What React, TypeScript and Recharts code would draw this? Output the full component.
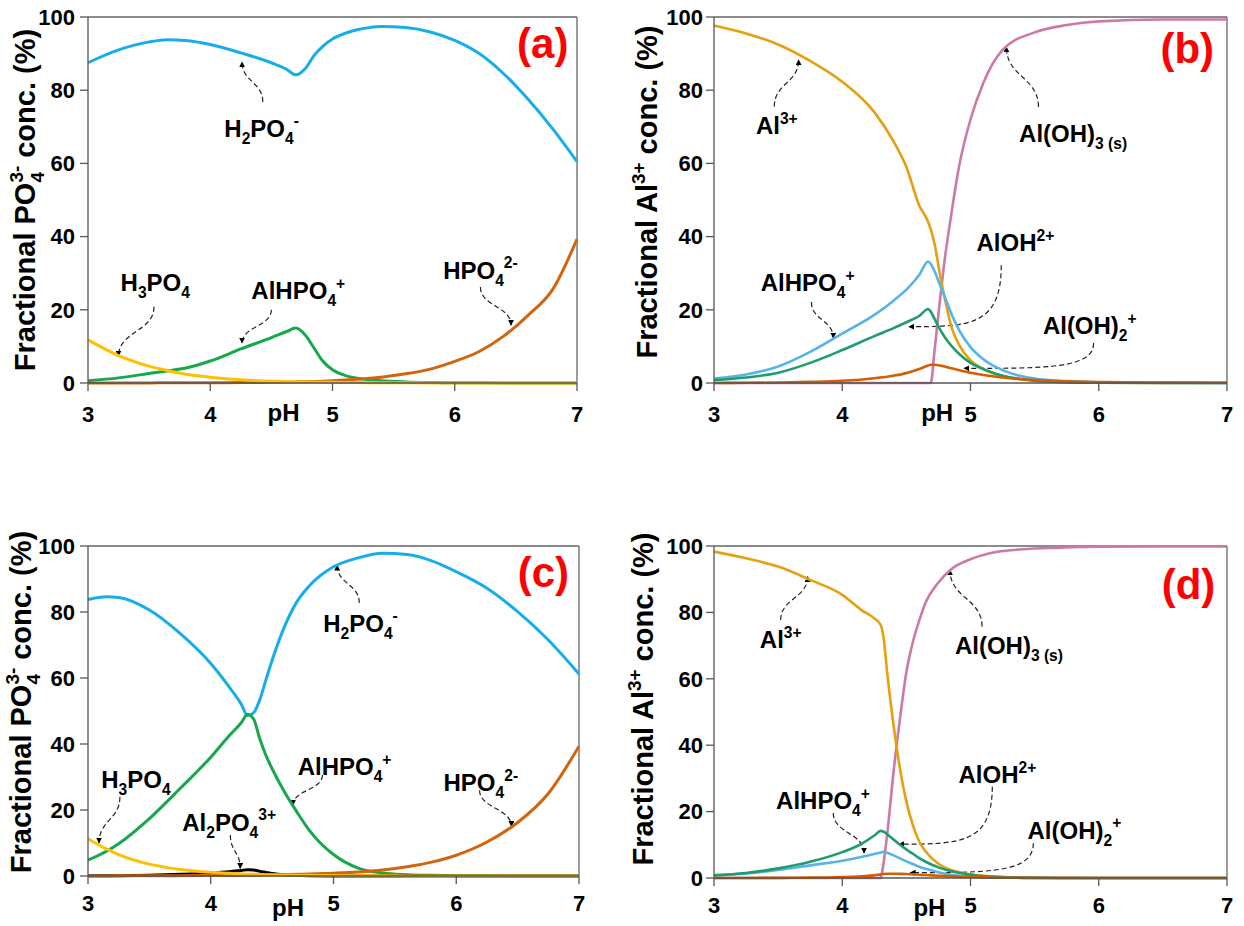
import React from "react";
import { LineChart, Line, XAxis, YAxis, ReferenceLine, Customized } from "recharts";

const FONT = '"Liberation Sans", Arial, Helvetica, sans-serif';

// ---- panel (a): phosphate speciation, case 1
const PH_A = [3, 3.25, 3.5, 3.65, 3.8, 4, 4.25, 4.5, 4.62, 4.7, 4.78, 4.85, 4.92, 5, 5.1, 5.2, 5.3, 5.4, 5.6, 5.8, 6, 6.2, 6.4, 6.6, 6.8, 7];
const A_H2PO4 = [87.5, 91, 93.2, 93.8, 93.6, 92.5, 90.2, 87.5, 85.8, 84.2, 86, 89.5, 92, 94, 95.5, 96.5, 97.1, 97.4, 97.1, 95.9, 93.6, 90, 84.5, 77.5, 69.5, 60.5];
const A_ALHPO4 = [0.6, 1.4, 2.6, 3.3, 4.1, 6.0, 9.3, 12.4, 14, 15, 13, 9.5, 6, 3.6, 2.1, 1.3, 0.9, 0.6, 0.3, 0.15, 0.08, 0.04, 0.02, 0.01, 0, 0];
const A_H3PO4 = [11.8, 7.5, 4.6, 3.4, 2.4, 1.6, 0.9, 0.5, 0.4, 0.3, 0.28, 0.25, 0.22, 0.18, 0.14, 0.11, 0.09, 0.07, 0.05, 0.03, 0.02, 0.01, 0, 0, 0, 0];
const A_HPO4 = [0.01, 0.02, 0.03, 0.04, 0.05, 0.07, 0.12, 0.2, 0.25, 0.3, 0.35, 0.4, 0.48, 0.6, 0.8, 1.0, 1.3, 1.6, 2.5, 3.8, 5.9, 8.6, 12.8, 18.5, 25.5, 39.3];

// ---- panel (b): aluminium speciation, case 1
const PH_B = [3, 3.25, 3.5, 3.75, 4, 4.25, 4.4, 4.5, 4.6, 4.67, 4.69, 4.72, 4.76, 4.8, 4.85, 4.91, 5, 5.1, 5.25, 5.5, 5.75, 6, 6.5, 7];
const B_AL = [97.7, 95.5, 92.5, 88, 82.3, 74, 66, 59, 48.5, 44, 42, 38, 30, 23, 15.5, 10.5, 6.2, 3.8, 1.9, 0.6, 0.2, 0.05, 0, 0];
const B_ALHPO4 = [1.2, 2.3, 4.5, 8.5, 13.5, 18.6, 22.5, 25.5, 29.5, 33.2, 32.5, 30.5, 27, 23.5, 19, 14.5, 9.8, 6.5, 3.5, 1.2, 0.5, 0.2, 0.05, 0];
const B_ALOH = [0.8, 1.5, 2.8, 5.5, 9.0, 12.8, 15, 16.6, 18.3, 20.2, 19.5, 17.5, 14.8, 12.5, 10.2, 8.0, 5.5, 3.8, 2.0, 0.7, 0.25, 0.1, 0.02, 0];
const B_ALOH2 = [0.02, 0.05, 0.12, 0.3, 0.6, 1.3, 2.0, 2.7, 3.8, 4.8, 5.0, 5.0, 4.8, 4.5, 4.0, 3.5, 2.8, 2.2, 1.5, 0.8, 0.45, 0.25, 0.1, 0.05];
const B_ALOH3 = [0, 0, 0, 0, 0, 0, 0, 0, 0, 0, 0, 9, 22, 34, 46, 59, 72, 82, 91, 95.8, 97.8, 98.8, 99.3, 99.3];

// ---- panel (c): phosphate speciation, case 2
const PH_C = [3, 3.15, 3.25, 3.5, 3.75, 4, 4.15, 4.25, 4.3, 4.35, 4.4, 4.45, 4.5, 4.6, 4.7, 4.8, 5, 5.2, 5.4, 5.6, 5.8, 6, 6.25, 6.5, 6.75, 7];
const C_H2PO4 = [83.8, 84.6, 84.4, 80.6, 73.5, 64.4, 57.3, 52, 48.6, 49.5, 53.5, 59.5, 65.4, 75.5, 83, 87.8, 93.7, 96.4, 97.8, 97.4, 95.5, 92.2, 87.2, 80.1, 71.5, 61.2];
const C_ALHPO4 = [4.8, 7.5, 9.8, 17.4, 26.5, 36, 42.5, 46.5, 49, 47.5, 41.5, 36.5, 32.5, 25.5, 19.5, 14, 6.5, 2.4, 0.9, 0.4, 0.2, 0.1, 0.05, 0.02, 0.01, 0];
const C_H3PO4 = [11.3, 8.2, 6.5, 3.6, 2.0, 1.1, 0.8, 0.6, 0.55, 0.5, 0.45, 0.4, 0.35, 0.3, 0.25, 0.2, 0.12, 0.08, 0.05, 0.03, 0.02, 0.01, 0, 0, 0, 0];
const C_AL2PO4 = [0.05, 0.08, 0.1, 0.25, 0.5, 0.9, 1.3, 1.7, 1.9, 1.8, 1.4, 1.1, 0.8, 0.4, 0.2, 0.1, 0.03, 0.01, 0, 0, 0, 0, 0, 0, 0, 0];
const C_HPO4 = [0.02, 0.03, 0.04, 0.06, 0.1, 0.15, 0.18, 0.2, 0.2, 0.22, 0.25, 0.28, 0.3, 0.4, 0.5, 0.6, 0.85, 1.2, 1.8, 2.8, 4.2, 6.3, 10.3, 16.2, 25, 39.3];

// ---- panel (d): aluminium speciation, case 2
const PH_D = [3, 3.25, 3.5, 3.75, 4, 4.15, 4.25, 4.3, 4.32, 4.35, 4.4, 4.45, 4.5, 4.55, 4.6, 4.65, 4.75, 4.85, 5, 5.15, 5.4, 5.7, 6, 6.5, 7];
const D_AL = [98.3, 96.3, 93.8, 89.8, 85.3, 80.7, 78.2, 76.2, 73, 62, 46, 33, 23, 16, 11, 8, 4.3, 2.4, 1.1, 0.5, 0.15, 0.05, 0, 0, 0];
const D_ALHPO4 = [0.8, 1.4, 2.4, 3.8, 5.2, 6.3, 7.2, 7.7, 7.9, 7.6, 6.8, 5.9, 5.0, 4.2, 3.4, 2.8, 1.7, 1.0, 0.45, 0.2, 0.05, 0, 0, 0, 0];
const D_ALOH = [0.8, 1.5, 2.9, 4.9, 7.8, 10.3, 12.8, 14.2, 14.0, 13.2, 11.6, 10.0, 8.6, 7.3, 6.0, 4.9, 3.2, 2.0, 1.0, 0.4, 0.1, 0.02, 0, 0, 0];
const D_ALOH2 = [0, 0.02, 0.05, 0.1, 0.3, 0.55, 0.8, 1.1, 1.2, 1.3, 1.3, 1.25, 1.2, 1.1, 1.0, 0.9, 0.7, 0.5, 0.3, 0.15, 0.05, 0, 0, 0, 0];
const D_ALOH3 = [0, 0, 0, 0, 0, 0, 0, 0, 4, 13, 32, 48, 62, 71, 77.5, 83, 89, 93, 96, 97.8, 99, 99.5, 99.8, 99.9, 99.9];

const X_TICKS = [3, 4, 5, 6, 7];
const Y_TICKS = [0, 20, 40, 60, 80, 100];

const C = {
  h2po4: "#16AEEA",
  alhpo4P: "#17A84C",
  h3po4: "#FFC000",
  hpo4: "#D3640E",
  al2po4: "#000000",
  al: "#E6A00F",
  alhpo4A: "#56B4E9",
  aloh: "#1F9B6E",
  aloh2: "#D55E00",
  aloh3: "#CC79A7",
};

const rowsA = PH_A.map((ph, i) => ({ ph, h2po4: A_H2PO4[i], alhpo4: A_ALHPO4[i], h3po4: A_H3PO4[i], hpo4: A_HPO4[i] }));
const rowsB = PH_B.map((ph, i) => ({ ph, al: B_AL[i], alhpo4: B_ALHPO4[i], aloh: B_ALOH[i], aloh2: B_ALOH2[i], aloh3: B_ALOH3[i] }));
const rowsC = PH_C.map((ph, i) => ({ ph, h2po4: C_H2PO4[i], alhpo4: C_ALHPO4[i], h3po4: C_H3PO4[i], al2po4: C_AL2PO4[i], hpo4: C_HPO4[i] }));
const rowsD = PH_D.map((ph, i) => ({ ph, al: D_AL[i], alhpo4: D_ALHPO4[i], aloh: D_ALOH[i], aloh2: D_ALOH2[i], aloh3: D_ALOH3[i] }));

// "{_x}" subscript, "{^x}" superscript, "{=x}" superscript stacked over previous subscript
function parseChem(s: string) {
  const out: { t: string; k: string }[] = [];
  const re = /\{([_^=])([^}]*)\}|([^{]+)/g;
  let m: RegExpExecArray | null;
  while ((m = re.exec(s))) {
    if (m[3]) out.push({ t: m[3], k: "n" });
    else out.push({ t: m[2], k: m[1] === "_" ? "sub" : m[1] === "^" ? "sup" : "stack" });
  }
  return out;
}

function ChemText({ x, y, text, size, anchor = "middle", fill = "#000", transform }: any) {
  const parts = parseChem(text);
  let shift = 0;
  let prevLen = 0;
  return (
    <text x={x} y={y} textAnchor={anchor} fontFamily={FONT} fontWeight={700} fontSize={size} fill={fill} transform={transform} style={{ whiteSpace: "pre" }}>
      {parts.map((p, i) => {
        const target = p.k === "sub" ? 0.3 * size : p.k === "n" ? 0 : -0.42 * size;
        const dy = target - shift;
        shift = target;
        const dx = p.k === "stack" ? -prevLen * 0.556 * 0.65 * size : undefined;
        prevLen = p.t.length;
        return (
          <tspan key={i} dy={dy} dx={dx} fontSize={p.k === "n" ? size : 0.65 * size}>
            {p.t}
          </tspan>
        );
      })}
    </text>
  );
}

function arrowD(sx: number, sy: number, ex: number, ey: number, kind: string) {
  if (kind === "h") return `M${sx},${sy} C${sx},${ey} ${sx + (ex - sx) * 0.35},${ey} ${ex},${ey}`;
  const my = (sy + ey) / 2;
  return `M${sx},${sy} C${sx},${my} ${ex},${my} ${ex},${ey}`;
}

type Geo = { left: number; top: number; width: number; height: number; yw: number; mt: number; mr: number; xh: number; tm: number; ym: number };

function Overlay({ id, g, cfg }: any) {
  const pl = g.yw;
  const pt = g.mt;
  const pw = g.width - g.yw - g.mr;
  const ph = g.height - g.mt - g.xh;
  const X = (v: number) => pl + ((v - 3) / 4) * pw;
  const Y = (v: number) => pt + ((100 - v) / 100) * ph;
  const yl = cfg.ylabel;
  const ylx = pl + yl.dx;
  const yly = pt + ph / 2 + yl.dy;
  return (
    <g>
      <defs>
        <marker id={`arr-${id}`} viewBox="0 0 10 10" refX="9" refY="5" markerWidth="5" markerHeight="5" orient="auto">
          <path d="M0,0 L10,5 L0,10 z" fill="#000" />
        </marker>
      </defs>
      {cfg.ann.map((a: any, i: number) => (
        <g key={i}>
          <ChemText x={X(a.x)} y={Y(a.y) + 0.36 * 24} text={a.t} size={24} />
          <path
            d={arrowD(X(a.a[0]), Y(a.a[1]), X(a.a[2]), Y(a.a[3]), a.a[4])}
            fill="none"
            stroke="#222"
            strokeWidth={1.2}
            strokeDasharray="5 3"
            markerEnd={`url(#arr-${id})`}
          />
        </g>
      ))}
      <text x={X(cfg.tag[0])} y={Y(cfg.tag[1]) + 15} textAnchor="middle" fontFamily={FONT} fontWeight={700} fontSize={42} fill="#FF0000">
        {cfg.tag[2]}
      </text>
      <text x={X(cfg.phX)} y={Y(0) + cfg.phDy} textAnchor="middle" fontFamily={FONT} fontWeight={700} fontSize={24} fill="#000">
        pH
      </text>
      <ChemText x={ylx} y={yly} text={yl.t} size={29} transform={`rotate(-90, ${ylx}, ${yly})`} />
    </g>
  );
}

function Panel({ id, g, rows, series, cfg, sw }: { id: string; g: Geo; rows: any[]; series: [string, string][]; cfg: any; sw: number }) {
  const tick = { fill: "#000", fontSize: 22, fontWeight: 700, fontFamily: FONT };
  return (
    <div style={{ position: "absolute", left: g.left, top: g.top }}>
      <LineChart width={g.width} height={g.height} data={rows} margin={{ top: g.mt, right: g.mr, bottom: 0, left: 0 }}>
        <XAxis
          type="number"
          dataKey="ph"
          domain={[3, 7]}
          ticks={X_TICKS}
          interval={0}
          height={g.xh}
          tick={tick}
          tickSize={8}
          tickMargin={g.tm}
          axisLine={{ stroke: "#555", strokeWidth: 1.3 }}
          tickLine={{ stroke: "#555", strokeWidth: 1.3 }}
        />
        <YAxis
          type="number"
          domain={[0, 100]}
          ticks={Y_TICKS}
          interval={0}
          width={g.yw}
          tick={tick}
          tickSize={8}
          tickMargin={g.ym}
          axisLine={{ stroke: "#555", strokeWidth: 1.3 }}
          tickLine={{ stroke: "#555", strokeWidth: 1.3 }}
        />
        <ReferenceLine y={100} stroke="#666" strokeWidth={1.3} />
        <ReferenceLine x={7} stroke="#666" strokeWidth={1.3} />
        {series.map(([key, color]) => (
          <Line key={key} type="monotone" dataKey={key} stroke={color} strokeWidth={sw} dot={false} activeDot={false} isAnimationActive={false} />
        ))}
        <Customized component={() => <Overlay id={id} g={g} cfg={cfg} />} />
      </LineChart>
    </div>
  );
}

const GEO_A: Geo = { left: 0, top: 0, width: 600, height: 433, yw: 88, mt: 17, mr: 23, xh: 50, tm: 15, ym: 5 };
const GEO_B: Geo = { left: 610, top: 0, width: 634, height: 433, yw: 104, mt: 17, mr: 17, xh: 50, tm: 15, ym: 3 };
const GEO_C: Geo = { left: 0, top: 500, width: 600, height: 426, yw: 88, mt: 46, mr: 21, xh: 50, tm: 11, ym: 5 };
const GEO_D: Geo = { left: 610, top: 500, width: 634, height: 426, yw: 104, mt: 46, mr: 17, xh: 48, tm: 11, ym: 3 };

const PO4_LABEL = "Fractional PO{_4}{=3-} conc. (%)";
const AL_LABEL = "Fractional Al{^3+} conc. (%)";

const CFG_A = {
  ylabel: { t: PO4_LABEL, dx: -53, dy: 0 },
  tag: [6.72, 92.9, "(a)"],
  phX: 4.6,
  phDy: 38,
  ann: [
    { x: 4.42, y: 69.7, t: "H{_2}PO{_4}{^-}", a: [4.43, 76.8, 4.26, 87.7, "s"] },
    { x: 3.55, y: 27.6, t: "H{_3}PO{_4}", a: [3.54, 20.8, 3.25, 7.4, "s"] },
    { x: 4.72, y: 25.4, t: "AlHPO{_4}{^+}", a: [4.5, 20, 4.26, 10.9, "s"] },
    { x: 6.21, y: 30.9, t: "HPO{_4}{^2-}", a: [6.21, 26.2, 6.46, 15.8, "s"] },
  ],
};

const CFG_B = {
  ylabel: { t: AL_LABEL, dx: -57, dy: -8 },
  tag: [6.69, 91.5, "(b)"],
  phX: 4.74,
  phDy: 38,
  ann: [
    { x: 3.49, y: 70.5, t: "Al{^3+}", a: [3.47, 75.5, 3.66, 88.3, "s"] },
    { x: 5.8, y: 68.3, t: "Al(OH){_3 (s)}", a: [5.53, 75.4, 5.28, 91.8, "s"] },
    { x: 3.73, y: 27.6, t: "AlHPO{_4}{^+}", a: [3.76, 22.1, 3.93, 12.3, "s"] },
    { x: 5.35, y: 38.3, t: "AlOH{^2+}", a: [5.24, 32.2, 4.52, 15.4, "h"] },
    { x: 5.93, y: 15.8, t: "Al(OH){_2}{^+}", a: [5.96, 10.9, 4.95, 4.0, "h"] },
  ],
};

const CFG_C = {
  ylabel: { t: PO4_LABEL, dx: -57, dy: -9 },
  tag: [6.71, 92.1, "(c)"],
  phX: 4.63,
  phDy: 40,
  ann: [
    { x: 5.22, y: 76.7, t: "H{_2}PO{_4}{^-}", a: [5.21, 82.7, 5.03, 94.2, "s"] },
    { x: 3.39, y: 29.4, t: "H{_3}PO{_4}", a: [3.26, 24, 3.09, 10, "s"] },
    { x: 4.15, y: 16.4, t: "Al{_2}PO{_4}{^3+}", a: [4.16, 12.4, 4.24, 2.3, "s"] },
    { x: 5.09, y: 33.3, t: "AlHPO{_4}{^+}", a: [4.91, 30.6, 4.67, 21.5, "s"] },
    { x: 6.2, y: 28.5, t: "HPO{_4}{^2-}", a: [6.19, 26, 6.45, 15, "s"] },
  ],
};

const CFG_D = {
  ylabel: { t: AL_LABEL, dx: -61, dy: -13 },
  tag: [6.7, 88.6, "(d)"],
  phX: 4.68,
  phDy: 38,
  ann: [
    { x: 3.52, y: 72, t: "Al{^3+}", a: [3.52, 77.7, 3.73, 90.8, "s"] },
    { x: 5.3, y: 70.2, t: "Al(OH){_3 (s)}", a: [5.09, 75.7, 4.84, 92.8, "s"] },
    { x: 3.85, y: 23.5, t: "AlHPO{_4}{^+}", a: [3.93, 19.6, 4.17, 7.5, "s"] },
    { x: 5.21, y: 31.3, t: "AlOH{^2+}", a: [5.17, 27.5, 4.44, 10.2, "h"] },
    { x: 5.81, y: 14.5, t: "Al(OH){_2}{^+}", a: [5.49, 10.5, 4.53, 1.6, "h"] },
  ],
};

export default function App() {
  return (
    <div style={{ position: "absolute", left: 0, top: 0, width: 1244, height: 926, background: "#fff" }}>
      <Panel
        id="a"
        g={GEO_A}
        rows={rowsA}
        sw={3}
        cfg={CFG_A}
        series={[["h2po4", C.h2po4], ["alhpo4", C.alhpo4P], ["hpo4", C.hpo4], ["h3po4", C.h3po4]]}
      />
      <Panel
        id="b"
        g={GEO_B}
        rows={rowsB}
        sw={2.6}
        cfg={CFG_B}
        series={[["aloh3", C.aloh3], ["al", C.al], ["alhpo4", C.alhpo4A], ["aloh", C.aloh], ["aloh2", C.aloh2]]}
      />
      <Panel
        id="c"
        g={GEO_C}
        rows={rowsC}
        sw={3}
        cfg={CFG_C}
        series={[["h2po4", C.h2po4], ["alhpo4", C.alhpo4P], ["al2po4", C.al2po4], ["hpo4", C.hpo4], ["h3po4", C.h3po4]]}
      />
      <Panel
        id="d"
        g={GEO_D}
        rows={rowsD}
        sw={2.6}
        cfg={CFG_D}
        series={[["aloh3", C.aloh3], ["al", C.al], ["alhpo4", C.alhpo4A], ["aloh", C.aloh], ["aloh2", C.aloh2]]}
      />
    </div>
  );
}
